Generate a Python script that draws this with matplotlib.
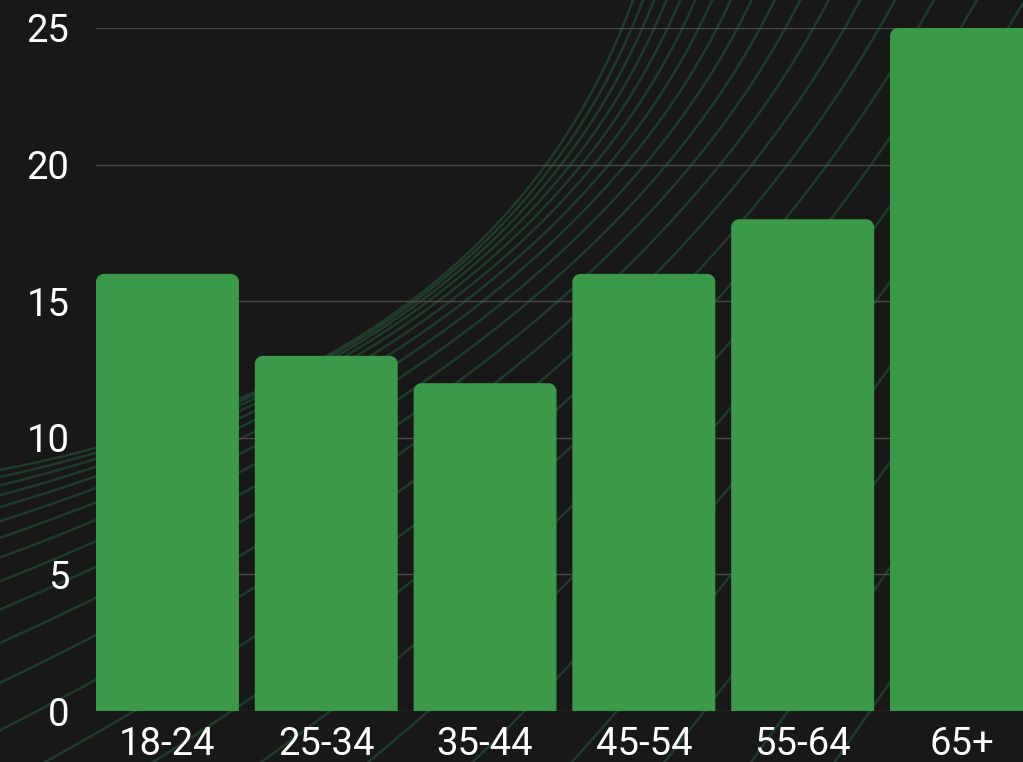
import numpy as np
import matplotlib
matplotlib.use("Agg")
import matplotlib.pyplot as plt
from matplotlib.path import Path
from matplotlib.patches import PathPatch

# data
age_groups = ["18-24", "25-34", "35-44", "45-54", "55-64", "65+"]
shares = [16, 13, 12, 16, 18, 25]
y_ticks = [0, 5, 10, 15, 20, 25]

BG = "#181818"
BAR = "#3a9a4a"
GRID = "#4a4a4a"
SWIRL = "#1f3c2b"

plt.rcParams["font.family"] = ["Roboto", "DejaVu Sans"]

W, H = 1023, 762
fig = plt.figure(figsize=(W / 100, H / 100), dpi=100)
fig.patch.set_facecolor(BG)

# decorative background curves, drawn in pixel space on a figure-wide axes
bg = fig.add_axes([0, 0, 1, 1], zorder=0)
bg.set_xlim(0, W)
bg.set_ylim(H, 0)
bg.axis("off")
bg.set_facecolor(BG)

n_curves = 22
t = np.linspace(-0.4, 1.4, 300)
for i in range(n_curves):
    f = i / (n_curves - 1)
    x_top = 633 + 10 * (1.11 ** i - 1) / 0.11
    y_left = 470 + 7 * (1.19 ** i - 1) / 0.19
    a0 = np.radians(11 + 28 * f)
    a2 = np.radians(70 - 14 * f)
    p0 = np.array([0.0, y_left])
    p2 = np.array([x_top, 0.0])
    d0 = np.array([np.cos(a0), -np.sin(a0)])
    d2 = np.array([np.cos(a2), -np.sin(a2)])
    # control point where the two end tangents meet
    A = np.column_stack([d0, -d2])
    a, _ = np.linalg.solve(A, p2 - p0)
    p1 = p0 + a * d0
    xs = (1 - t) ** 2 * p0[0] + 2 * (1 - t) * t * p1[0] + t ** 2 * p2[0]
    ys = (1 - t) ** 2 * p0[1] + 2 * (1 - t) * t * p1[1] + t ** 2 * p2[1]
    bg.plot(xs, ys, color=SWIRL, lw=1.8, solid_capstyle="round")

# main chart
left, bottom, top = 96, 51, 28
ax = fig.add_axes([left / W, bottom / H, (W - left) / W, (H - bottom - top) / H], zorder=1)
ax.patch.set_alpha(0)

x = np.arange(len(age_groups))
bars = ax.bar(x, shares, width=0.9, color=BAR, zorder=2)

x_lo = -0.45
px_per_x = 158.8
ax.set_xlim(x_lo, x_lo + (W - left) / px_per_x)
ax.set_ylim(0, 25)

# swap plain rectangles for ones with rounded top corners (about 8 px)
px_per_y = (H - bottom - top) / 25
rx, ry = 8 / px_per_x, 8 / px_per_y
k = 0.5523
codes = [Path.MOVETO, Path.LINETO, Path.CURVE4, Path.CURVE4, Path.CURVE4,
         Path.LINETO, Path.CURVE4, Path.CURVE4, Path.CURVE4, Path.LINETO, Path.CLOSEPOLY]
for rect in bars:
    x0, w, h = rect.get_x(), rect.get_width(), rect.get_height()
    verts = [(x0, 0), (x0, h - ry), (x0, h - ry + k * ry), (x0 + rx - k * rx, h), (x0 + rx, h),
             (x0 + w - rx, h), (x0 + w - rx + k * rx, h), (x0 + w, h - ry + k * ry), (x0 + w, h - ry),
             (x0 + w, 0), (x0, 0)]
    rect.set_visible(False)
    ax.add_patch(PathPatch(Path(verts, codes), facecolor=BAR, edgecolor="none", zorder=2))

ax.set_yticks(y_ticks)
ax.set_xticks(x)
ax.set_xticklabels(age_groups)
ax.grid(axis="y", color=GRID, lw=1, zorder=0)
ax.set_axisbelow(True)
for s in ax.spines.values():
    s.set_visible(False)
ax.tick_params(axis="y", length=0, pad=19, labelsize=27.5, labelcolor="white")
ax.tick_params(axis="x", length=0, pad=11, labelsize=27.5, labelcolor="white")

fig.savefig("out.png", dpi=100, facecolor=BG)
